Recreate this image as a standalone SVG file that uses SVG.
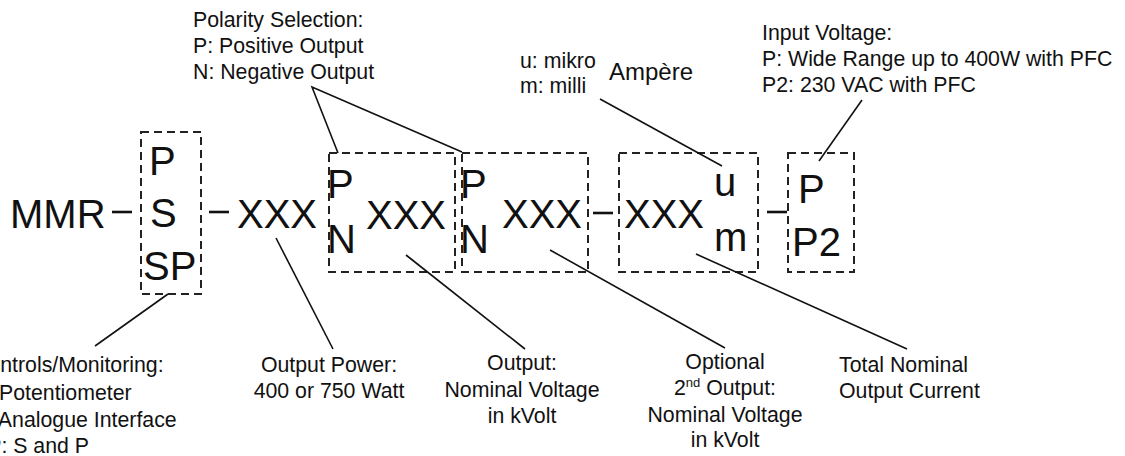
<svg xmlns="http://www.w3.org/2000/svg" width="1125" height="456" viewBox="0 0 1125 456">
<style>
.big{font-family:"Liberation Sans",Arial,sans-serif;font-size:40px;fill:#111}
.sm{font-family:"Liberation Sans",Arial,sans-serif;font-size:21.3px;fill:#111}
.mid{text-anchor:middle}
.box{fill:none;stroke:#222;stroke-width:2;stroke-dasharray:8 5}
.ln{stroke:#111;stroke-width:1.6;fill:none}
.dash{stroke:#111;stroke-width:2.6}
</style>
<rect width="1125" height="456" fill="#fff"/>
<g id="prefix"><text class="big" x="10" y="228">MMR</text></g>
<g id="box-controls">
<rect class="box" x="141" y="132" width="60" height="162"/>
<text class="big" x="149" y="175">P</text>
<text class="big" x="150" y="227">S</text>
<text class="big" x="143" y="280">SP</text>
</g>
<g id="power"><text class="big" x="237" y="228">XXX</text></g>
<g id="box-output1">
<rect class="box" x="329" y="153" width="126" height="119"/>
<text class="big" x="327" y="198">P</text>
<text class="big" x="327" y="253">N</text>
<text class="big" x="366" y="229">XXX</text>
</g>
<g id="box-output2">
<rect class="box" x="462" y="153" width="126" height="119"/>
<text class="big" x="460" y="198">P</text>
<text class="big" x="460" y="253">N</text>
<text class="big" x="502" y="228">XXX</text>
</g>
<g id="box-current">
<rect class="box" x="619" y="153" width="139" height="119"/>
<text class="big" x="624" y="228">XXX</text>
<text class="big" x="714" y="196">u</text>
<text class="big" x="714" y="251">m</text>
</g>
<g id="box-input">
<rect class="box" x="788" y="153" width="66" height="119"/>
<text class="big" x="798" y="203">P</text>
<text class="big" x="792" y="256">P2</text>
</g>
<g id="label-polarity">
<text class="sm" x="193" y="27">Polarity Selection:</text>
<text class="sm" x="193" y="53">P: Positive Output</text>
<text class="sm" x="193" y="79">N: Negative Output</text>
</g>
<g id="label-unit">
<text class="sm" x="520" y="68">u: mikro</text>
<text class="sm" x="520" y="93">m: milli</text>
<text class="sm" x="609" y="80" style="font-size:24px">Ampère</text>
</g>
<g id="label-input">
<text class="sm" x="762" y="40">Input Voltage:</text>
<text class="sm" x="762" y="66">P: Wide Range up to 400W with PFC</text>
<text class="sm" x="762" y="92">P2: 230 VAC with PFC</text>
</g>
<g id="label-controls">
<text class="sm" x="-27" y="372">Controls/Monitoring:</text>
<text class="sm" x="-27" y="400">P: Potentiometer</text>
<text class="sm" x="-27" y="427">S: Analogue Interface</text>
<text class="sm" x="-27" y="453">SP: S and P</text>
</g>
<g id="label-power">
<text class="sm mid" x="329" y="372">Output Power:</text>
<text class="sm mid" x="329" y="398">400 or 750 Watt</text>
</g>
<g id="label-output1">
<text class="sm mid" x="522" y="370">Output:</text>
<text class="sm mid" x="522" y="397">Nominal Voltage</text>
<text class="sm mid" x="522" y="423">in kVolt</text>
</g>
<g id="label-output2">
<text class="sm mid" x="725" y="369">Optional</text>
<text class="sm mid" x="725" y="395">2<tspan style="font-size:13px" dy="-8">nd</tspan><tspan dy="8"> Output:</tspan></text>
<text class="sm mid" x="725" y="422">Nominal Voltage</text>
<text class="sm mid" x="725" y="447">in kVolt</text>
</g>
<g id="label-current">
<text class="sm" x="839" y="372">Total Nominal</text>
<text class="sm" x="839" y="398">Output Current</text>
</g>
<g id="connectors">
<line class="dash" x1="112" y1="212" x2="132" y2="212"/>
<line class="dash" x1="209" y1="212" x2="229" y2="212"/>
<line class="dash" x1="593" y1="213" x2="613" y2="213"/>
<line class="dash" x1="767" y1="212" x2="787" y2="212"/>
<polyline class="ln" points="338,153 312,87 462,152"/>
<line class="ln" x1="600" y1="99" x2="722" y2="166"/>
<line class="ln" x1="862" y1="100" x2="819" y2="161"/>
<line class="ln" x1="168" y1="294" x2="95" y2="346"/>
<line class="ln" x1="276" y1="238" x2="333" y2="349"/>
<line class="ln" x1="406" y1="255" x2="525" y2="349"/>
<line class="ln" x1="550" y1="250" x2="725" y2="348"/>
<line class="ln" x1="696" y1="254" x2="907" y2="349"/>
</g>
</svg>
